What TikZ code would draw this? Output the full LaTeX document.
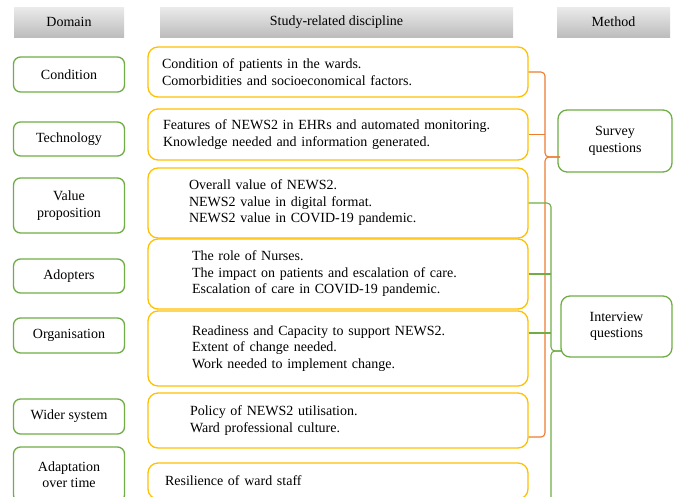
\documentclass[tikz,border=0pt]{standalone}
\usepackage{fontspec}
\setmainfont{Liberation Serif}
\definecolor{boxgreen}{HTML}{70AD47}
\definecolor{boxgold}{HTML}{FFC000}
\definecolor{lineorange}{HTML}{ED7D31}
\begin{document}
\begin{tikzpicture}[x=1pt,y=-1pt,
  font=\fontsize{14}{16.5}\selectfont,
  head/.style={rectangle, top color=black!8, bottom color=black!26, draw=none, minimum height=30pt, inner sep=0pt},
  dom/.style={draw=boxgreen, line width=1.3pt, rounded corners=7pt, align=center, inner sep=0pt, minimum width=111pt},
  disc/.style 2 args={draw=boxgold, line width=1.3pt, rounded corners=10pt, align=left, inner ysep=0pt, inner xsep=#1pt, text width=#2pt, minimum width=380pt},
  meth/.style={draw=boxgreen, line width=1.3pt, rounded corners=9pt, align=center, inner sep=0pt},
  oline/.style={draw=lineorange, line width=1.1pt, rounded corners=4pt},
  gline/.style={draw=boxgreen, line width=1.1pt, rounded corners=4pt}]
\useasboundingbox (0,0) rectangle (678,496);
\clip (0,0) rectangle (678,496);

% headers
\node[head, minimum width=110pt] (hdom) at (69,22) {Domain};
\node[head, minimum width=353pt] (hdisc) at (336.5,22) {Study-related discipline};
\node[head, minimum width=113pt] (hmeth) at (613.5,22) {Method};

% domains
\node[dom, minimum height=35pt] (cond) at (69,74.5) {Condition};
\node[dom, minimum height=34pt] (tech) at (69,139) {Technology};
\node[dom, minimum height=55pt] (value) at (69,205.5) {Value\\proposition};
\node[dom, minimum height=34pt] (adopt) at (69,276) {Adopters};
\node[dom, minimum height=35pt] (org) at (69,335.5) {Organisation};
\node[dom, minimum height=35pt] (wider) at (69,416.5) {Wider system};
\node[dom, minimum height=55pt] (adapt) at (69,474.5) {Adaptation\\over time};

% disciplines
\node[disc={14}{352}, minimum height=50pt] (b1) at (338,72) {Condition of patients in the wards.\\Comorbidities and socioeconomical factors.};
\node[disc={15}{350}, minimum height=51pt] (b2) at (338,134.5) {Features of NEWS2 in EHRs and automated monitoring.\\Knowledge needed and information generated.};
\node[disc={41}{298}, minimum height=70pt] (b3) at (338,203) {Overall value of NEWS2.\\NEWS2 value in digital format.\\NEWS2 value in COVID-19 pandemic.};
\node[disc={44}{292}, minimum height=70pt] (b4) at (338,274) {The role of Nurses.\\The impact on patients and escalation of care.\\Escalation of care in COVID-19 pandemic.};
\node[disc={44}{292}, minimum height=75pt] (b5) at (338,348.5) {Readiness and Capacity to support NEWS2.\\Extent of change needed.\\Work needed to implement change.};
\node[disc={42}{296}, minimum height=55pt] (b6) at (338,420.5) {Policy of NEWS2 utilisation.\\Ward professional culture.};
\node[disc={17}{346}, minimum height=36pt] (b7) at (338,481) {Resilience of ward staff};

% methods
\node[meth, minimum width=114pt, minimum height=62pt] (survey) at (615,141) {Survey\\questions};
\node[meth, minimum width=111pt, minimum height=61pt] (interview) at (616.5,326.5) {Interview\\questions};

% connector helpers
\coordinate (ox) at (545,0);
\coordinate (gx) at (551,0);
\coordinate (stip) at (560,157);
\coordinate (itip) at (562,351);
\coordinate (gend) at (551,500);
\coordinate (b6c) at ([yshift=-16.5pt]b6.east);
\coordinate (b5c) at ([yshift=15.5pt]b5.east);

% orange brace (survey)
\draw[oline] (b1.east) -| (ox |- stip) -- (stip);
\draw[oline] (b6c) -| (ox |- stip) -- (stip);
\draw[oline] (b2.east) -- (b2.east -| ox);

% green brace (interview)
\draw[gline] (b3.east) -| (gx |- itip) -- (itip);
\draw[gline] (gend) -- (gx |- itip) -- (itip);
\draw[gline] (b4.east) -- (b4.east -| gx);
\draw[gline] (b5c) -- (b5c -| gx);
\end{tikzpicture}
\end{document}
